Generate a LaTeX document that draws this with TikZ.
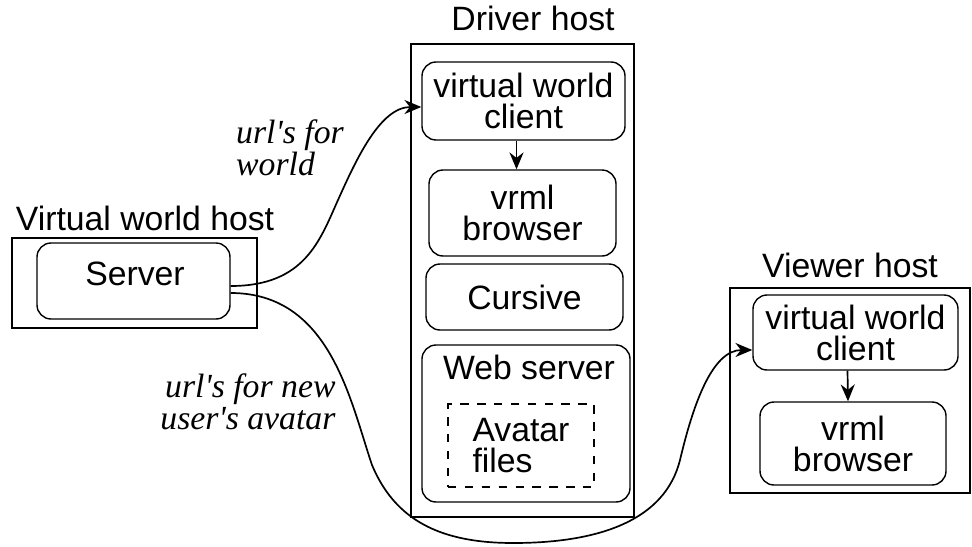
\documentclass[tikz,border=0pt]{standalone}
\usepackage{fontspec}
\setmainfont{Liberation Sans}
\newfontfamily\urlfont{Liberation Serif}
\usetikzlibrary{arrows.meta,calc}

\tikzset{
  wh/.style 2 args={minimum width=#1*0.0125cm, minimum height=#2*0.0125cm},
  host/.style={draw, line width=0.9pt, inner sep=0pt},
  hostname/.style={font=\fontsize{12}{14}\selectfont},
  part/.style={draw, line width=0.5pt, rounded corners=5pt, inner sep=0pt,
    align=center, font=\fontsize{12}{11}\selectfont},
  files/.style={draw, dashed, line width=0.5pt, inner sep=0pt,
    align=left, font=\fontsize{12}{11}\selectfont},
  link/.style={line width=0.6pt, -{Stealth[length=6pt,width=5pt]}},
  note/.style={font=\urlfont\itshape\fontsize{12}{11.5}\selectfont}
}

\begin{document}
\begin{tikzpicture}[x=0.0125cm, y=-0.0125cm]
  \useasboundingbox (0,0) rectangle (972,546);

  % virtual world host
  \node[host, wh={245}{90}] (vwhost) at (134.5,283) {};
  \node[hostname] (vwname) at (145,218) {Virtual world host};
  \node[part, wh={193}{76}] (server) at (133.5,281) {};
  \node[font=\fontsize{12}{11}\selectfont] (servertext) at (135,274) {Server};

  % driver host
  \node[host, wh={223}{473}] (drvhost) at (522.5,280.5) {};
  \node[hostname] (drvname) at (533,18) {Driver host};
  \node[part, wh={203}{78}] (vwcA) at (523.5,101) {virtual world\\client};
  \node[part, wh={187}{86}] (vrmlA) at (522.5,213) {vrml\\browser};
  \node[part, wh={197}{66}] (cursive) at (524.5,297) {Cursive};
  \node[part, wh={208}{157}] (web) at (526,423.5) {};
  \node[font=\fontsize{12}{11}\selectfont] (webname) at (529,367) {Web server};
  \node[files, wh={146}{83}] (avatar) at (521,445.5) {Avatar\\files};

  % viewer host
  \node[host, wh={240}{205}] (viewhost) at (850,390.5) {};
  \node[hostname] (viewname) at (850,265) {Viewer host};
  \node[part, wh={205}{75}] (vwcB) at (855.5,332.5) {virtual world\\client};
  \node[part, wh={186}{83}] (vrmlB) at (853,443.5) {vrml\\browser};

  % inside the hosts
  \draw[link] ($(vwcA.south)+(-7,0)$) -- ($(vrmlA.north)+(-6,0)$);
  \draw[link] ($(vwcB.south)+(-8,0)$) -- ($(vrmlB.north)+(-5,0)$);

  % between the hosts
  \node[note, align=left] (urlworld) at (290,148) {url's for\\world};
  \node[note, align=right] (urlavatar) at (248,402) {url's for new\\user's avatar};
  \coordinate (bend) at (338,200);
  \coordinate (drop) at (372,465);
  \coordinate (dip) at (513,543);
  \coordinate (rise) at (680,460);
  \draw[link] ($(server.east)+(0,5)$) .. controls (305,286) and (320,240) .. (bend)
    .. controls (356,160) and (380,107) .. ($(vwcA.west)+(0,6)$);
  \draw[link] ($(server.east)+(0,12)$) .. controls (330,293) and (350,400) .. (drop)
    .. controls (395,520) and (440,543) .. (dip)
    .. controls (600,543) and (665,520) .. (rise)
    .. controls (693,405) and (712,350) .. ($(vwcB.west)+(0,17.5)$);
\end{tikzpicture}
\end{document}
